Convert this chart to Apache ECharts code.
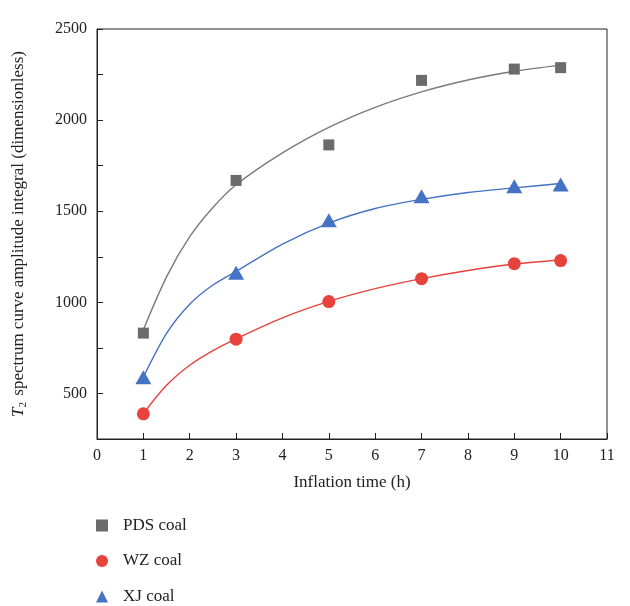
<!DOCTYPE html>
<html>
<head>
<meta charset="utf-8">
<script src="https://cdn.jsdelivr.net/npm/echarts@6/dist/echarts.min.js"></script>
<style>
  html, body { margin: 0; padding: 0; background: #fff; }
  #chart { width: 630px; height: 606px; }
</style>
</head>
<body>
<div id="chart"></div>
<script>
// measured points
const hours = [1, 3, 5, 7, 9, 10]
const pds = [831, 1669, 1864, 2218, 2280, 2288]
const wz = [388, 798, 1004, 1130, 1212, 1229]
const xj = [589, 1163, 1450, 1582, 1637, 1646]

// fitted curves
const fitHours = [1, 1.5, 2, 2.5, 3, 4, 5, 6, 7, 8, 9, 10]
const pdsFit = [850, 1140, 1360, 1520, 1645, 1820, 1960, 2070, 2155, 2220, 2268, 2302]
const wzFit = [390, 545, 655, 735, 800, 915, 1005, 1075, 1130, 1175, 1210, 1232]
const xjFit = [590, 830, 990, 1095, 1170, 1320, 1435, 1515, 1565, 1603, 1628, 1652]

const seriesNames = ['PDS coal', 'WZ coal', 'XJ coal']

const pair = (xs, ys) => xs.map((x, i) => [x, ys[i]])

const font = 'Liberation Serif'
const axisColor = '#222'

const chart = echarts.init(document.getElementById('chart'))

const fitLine = (data, color) => ({
  type: 'line',
  data: data,
  smooth: 0.3,
  symbol: 'none',
  silent: true,
  lineStyle: { color: color, width: 1.4 },
  z: 2
})

const points = (name, data, symbol, size, color) => ({
  name: name,
  type: 'scatter',
  data: data,
  symbol: symbol,
  symbolSize: size,
  itemStyle: { color: color, opacity: 1 },
  z: 3
})

chart.setOption({
  animation: false,
  grid: {
    left: 97,
    right: 23,
    top: 29,
    bottom: 167,
    show: true,
    borderColor: axisColor,
    borderWidth: 1
  },
  legend: {
    orient: 'vertical',
    left: 96,
    top: 517,
    height: 89,
    padding: 0,
    itemGap: 18.5,
    itemWidth: 12,
    itemHeight: 12,
    data: seriesNames,
    textStyle: {
      fontFamily: font,
      fontSize: 17,
      color: '#222',
      lineHeight: 17,
      padding: [0, 0, 0, 10]
    }
  },
  xAxis: {
    type: 'value',
    min: 0,
    max: 11,
    interval: 1,
    name: 'Inflation time (h)',
    nameLocation: 'middle',
    nameGap: 35,
    nameTextStyle: { fontFamily: font, fontSize: 17, color: '#222' },
    axisLine: { lineStyle: { color: axisColor, width: 1 } },
    axisTick: { inside: true, length: 6, lineStyle: { color: axisColor } },
    axisLabel: { fontFamily: font, fontSize: 16, color: '#222', margin: 9 },
    splitLine: { show: false }
  },
  yAxis: {
    type: 'value',
    min: 250,
    max: 2500,
    interval: 250,
    name: '{i|T}{s|2} spectrum curve amplitude integral (dimensionless)',
    nameLocation: 'middle',
    nameRotate: 90,
    nameGap: 68,
    nameTextStyle: {
      fontFamily: font,
      fontSize: 17,
      color: '#222',
      rich: {
        i: { fontFamily: font, fontSize: 17, fontStyle: 'italic', color: '#222' },
        s: { fontFamily: font, fontSize: 11, color: '#222', padding: [9, 2, 0, 0] }
      }
    },
    axisLine: { show: true, lineStyle: { color: axisColor, width: 1 } },
    axisTick: { inside: true, length: 6, lineStyle: { color: axisColor } },
    axisLabel: {
      fontFamily: font,
      fontSize: 16,
      color: '#222',
      margin: 10,
      formatter: v => (v % 500 === 0 ? String(v) : '')
    },
    splitLine: { show: false }
  },
  series: [
    fitLine(pair(fitHours, pdsFit), '#7a7a7a'),
    fitLine(pair(fitHours, wzFit), '#e8423d'),
    fitLine(pair(fitHours, xjFit), '#4472c4'),
    points(seriesNames[0], pair(hours, pds), 'rect', 11, '#6b6b6b'),
    points(seriesNames[1], pair(hours, wz), 'circle', 13, '#e8423d'),
    points(seriesNames[2], pair(hours, xj), 'triangle', [16, 14], '#4472c4')
  ]
})

window.addEventListener('resize', () => {
  chart.resize()
})
</script>
</body>
</html>
